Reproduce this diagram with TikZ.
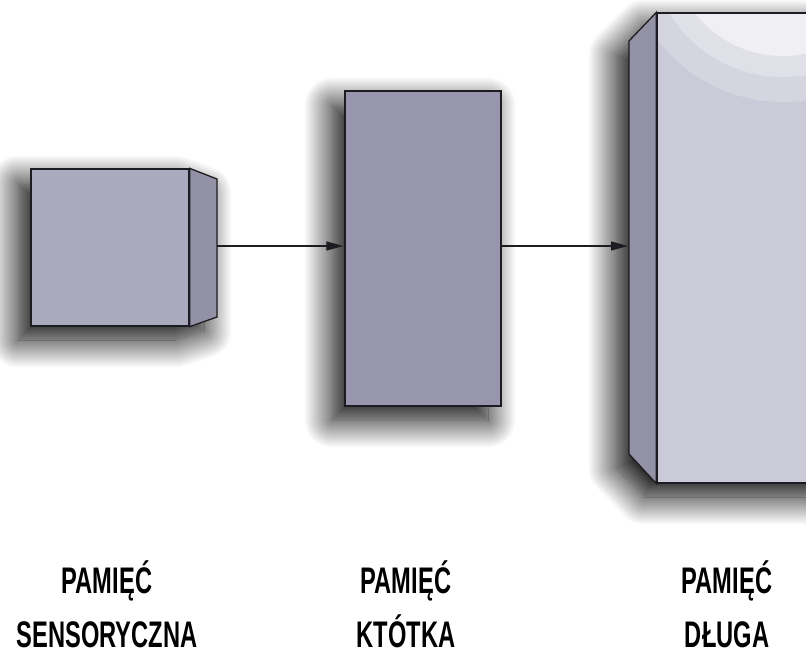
\documentclass[tikz,border=0pt]{standalone}
\usepackage{fontspec}
\newfontfamily\lblfont[FakeStretch=0.64]{Liberation Sans}
\usetikzlibrary{shadows.blur,arrows.meta}
\definecolor{frontA}{HTML}{AAAABF}
\definecolor{sideA}{HTML}{9391A5}
\definecolor{frontB}{HTML}{9896AE}
\definecolor{frontC}{HTML}{CBCAD8}
\definecolor{sideC}{HTML}{9392A6}
\definecolor{hlA}{HTML}{D5D5E0}
\definecolor{hlB}{HTML}{E0E0E9}
\definecolor{hlC}{HTML}{F0F0F4}
\definecolor{edge}{HTML}{1C1C22}
\tikzset{
  face/.style={draw=edge, line width=1.3pt, line join=miter},
  boxnode/.style={face, inner sep=0pt, anchor=center},
  shad/.style={blur shadow={shadow xshift=-13pt, shadow yshift=-14pt, shadow blur radius=28pt, shadow blur steps=30, shadow opacity=100}},
  conn/.style={line width=1.2pt, draw=edge, -{Triangle[length=17pt,width=9pt]}, shorten >=1pt},
  lbl/.style={font=\lblfont\bfseries\fontsize{37}{40}\selectfont, text=black, anchor=base, inner sep=0pt, text depth=0pt}
}
\begin{document}
\begin{tikzpicture}[x=1pt,y=-1pt]
\useasboundingbox (0,0) rectangle (806,655);
% shadows
\path[shad, fill=frontA] (31,169) -- (189,169) -- (217,179) -- (217,317) -- (189,326) -- (31,326) -- cycle;
\path[shad, fill=frontB] (345,91) rectangle (501,406);
\path[shad, fill=frontC] (629,41) -- (657,13) -- (840,13) -- (840,483) -- (657,483) -- (629,454) -- cycle;
% box 1
\node[boxnode, fill=frontA, minimum width=158pt, minimum height=157pt] (b1) at (110,247.5) {};
\coordinate (b1tr) at (217,179);
\coordinate (b1br) at (217,317);
\draw[face, fill=sideA] (b1.north east) -- (b1tr) -- (b1br) -- (b1.south east) -- cycle;
\coordinate (a1) at (217,246);
% box 2
\node[boxnode, fill=frontB, minimum width=156pt, minimum height=315pt] (b2) at (423,248.5) {};
% box 3
\node[boxnode, fill=frontC, minimum width=183pt, minimum height=470pt] (b3) at (748.5,248) {};
\begin{scope}
  \clip (657,13) rectangle (840,483);
  \fill[hlA] (783,-56) circle[radius=158];
  \fill[hlB] (783,-56) circle[radius=133];
  \fill[hlC] (783,-56) circle[radius=112];
\end{scope}
\draw[face] (657,13) -- (840,13) (657,13) -- (657,483) -- (840,483);
\coordinate (b3tl) at (629,41);
\coordinate (b3bl) at (629,454);
\draw[face, fill=sideC] (b3.north west) -- (b3tl) -- (b3bl) -- (b3.south west) -- cycle;
% connectors
\coordinate (a2) at (501,246);
\draw[conn] (a1) -- (b2.west |- a1);
\draw[conn] (a2) -- (b3tl |- a2);
% labels
\node[lbl] (l1a) at (107,593) {PAMIĘĆ};
\node[lbl] (l1b) at (107,647) {SENSORYCZNA};
\node[lbl] (l2a) at (406,593) {PAMIĘĆ};
\node[lbl] (l2b) at (406,647) {KTÓTKA};
\node[lbl] (l3a) at (727,593) {PAMIĘĆ};
\node[lbl] (l3b) at (727,647) {DŁUGA};
\end{tikzpicture}
\end{document}
